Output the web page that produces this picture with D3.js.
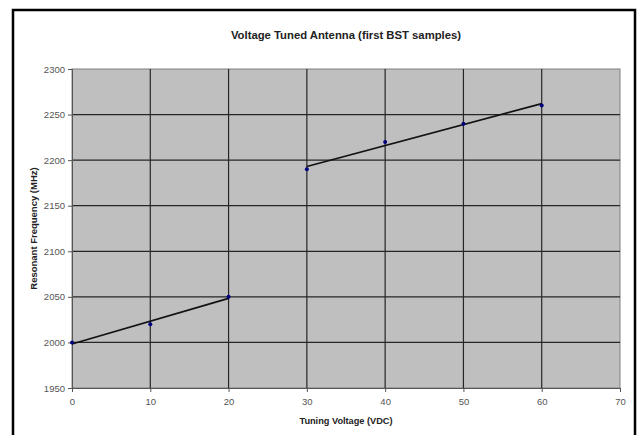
<!DOCTYPE html>
<html>
<head>
<meta charset="utf-8">
<script src="https://cdn.jsdelivr.net/npm/d3@7"></script>
<style>
  body { margin: 0; background: #fff; }
  svg { display: block; font-family: "Liberation Sans", Arial, sans-serif; }
</style>
</head>
<body>
<div id="chart"></div>
<script>
var w = 639;
var h = 435;

// data
var voltsLow = [0, 10, 20];
var freqLow = [2000, 2020, 2050];
var voltsHigh = [30, 40, 50, 60];
var freqHigh = [2190, 2220, 2240, 2260];
var xTicks = [0, 10, 20, 30, 40, 50, 60, 70];
var yTicks = [1950, 2000, 2050, 2100, 2150, 2200, 2250, 2300];

var m = { left: 72, right: 19, top: 69, bottom: 47 };

var svg = d3.select("#chart")
            .append("svg")
            .attr("width", w)
            .attr("height", h);

// outer frame
svg.append("rect")
    .attr("x", 13).attr("y", 10)
    .attr("width", 622).attr("height", 430)
    .style("fill", "#fff")
    .style("stroke", "#000")
    .style("stroke-width", 2.5);

var x = d3.scaleLinear().domain([0, 70]).range([m.left, w - m.right]);
var y = d3.scaleLinear().domain([1950, 2300]).range([h - m.bottom, m.top]);

// plot area
svg.append("rect")
    .attr("x", x(0)).attr("y", y(2300))
    .attr("width", x(70) - x(0)).attr("height", y(1950) - y(2300))
    .style("fill", "#bfbfbf")
    .style("stroke", "#808080")
    .style("stroke-width", 1);

// grid lines
svg.selectAll(".vgrid")
    .data(xTicks.slice(1, -1))
    .enter()
    .append("line")
    .attr("class", "vgrid")
    .attr("x1", function(d) { return x(d); })
    .attr("x2", function(d) { return x(d); })
    .attr("y1", y(2300))
    .attr("y2", y(1950))
    .style("stroke", "#262626")
    .style("stroke-width", 1.2);

svg.selectAll(".hgrid")
    .data(yTicks.slice(1, -1))
    .enter()
    .append("line")
    .attr("class", "hgrid")
    .attr("x1", x(0))
    .attr("x2", x(70))
    .attr("y1", function(d) { return y(d); })
    .attr("y2", function(d) { return y(d); })
    .style("stroke", "#262626")
    .style("stroke-width", 1.2);

// axes
var xAxis = svg.append("g")
    .attr("transform", "translate(0," + y(1950) + ")")
    .call(d3.axisBottom(x).tickValues(xTicks).tickSize(4).tickPadding(6).tickFormat(d3.format("d")));
var yAxis = svg.append("g")
    .attr("transform", "translate(" + x(0) + ",0)")
    .call(d3.axisLeft(y).tickValues(yTicks).tickSize(4).tickPadding(3).tickFormat(d3.format("d")));

[xAxis, yAxis].forEach(function(g) {
  g.select(".domain").style("stroke", "#555");
  g.selectAll(".tick line").style("stroke", "#555");
  g.selectAll(".tick text")
      .style("font-family", "Liberation Sans, Arial, sans-serif")
      .style("font-size", "9.5px")
      .style("fill", "#555");
});

// linear trend lines for each group
function trend(xs, ys) {
  var mx = d3.mean(xs), my = d3.mean(ys);
  var sxy = d3.sum(xs, function(v, i) { return (v - mx) * (ys[i] - my); });
  var sxx = d3.sum(xs, function(v) { return (v - mx) * (v - mx); });
  var b = sxy / sxx, a = my - b * mx;
  var ex = d3.extent(xs);
  return [[ex[0], a + b * ex[0]], [ex[1], a + b * ex[1]]];
}

var line = d3.line()
    .x(function(d) { return x(d[0]); })
    .y(function(d) { return y(d[1]); });

[trend(voltsLow, freqLow), trend(voltsHigh, freqHigh)].forEach(function(t) {
  svg.append("path")
      .attr("d", line(t))
      .style("fill", "none")
      .style("stroke", "#111")
      .style("stroke-width", 1.6);
});

// points
var pts = voltsLow.map(function(v, i) { return [v, freqLow[i]]; })
    .concat(voltsHigh.map(function(v, i) { return [v, freqHigh[i]]; }));

svg.selectAll(".pt")
    .data(pts)
    .enter()
    .append("circle")
    .attr("class", "pt")
    .attr("cx", function(d) { return x(d[0]); })
    .attr("cy", function(d) { return y(d[1]); })
    .attr("r", 2)
    .style("fill", "#000080");

// titles
svg.append("text")
    .attr("x", (x(0) + x(70)) / 2)
    .attr("y", 39)
    .attr("text-anchor", "middle")
    .style("font-size", "11.3px")
    .style("font-weight", "bold")
    .style("fill", "#222")
    .text("Voltage Tuned Antenna (first BST samples)");

svg.append("text")
    .attr("x", (x(0) + x(70)) / 2)
    .attr("y", 424)
    .attr("text-anchor", "middle")
    .style("font-size", "9.2px")
    .style("font-weight", "bold")
    .style("fill", "#222")
    .text("Tuning Voltage (VDC)");

svg.append("text")
    .attr("transform", "translate(37," + (y(1950) + y(2300)) / 2 + ") rotate(-90)")
    .attr("text-anchor", "middle")
    .style("font-size", "9.5px")
    .style("font-weight", "bold")
    .style("fill", "#222")
    .text("Resonant Frequency (MHz)");
</script>
</body>
</html>
